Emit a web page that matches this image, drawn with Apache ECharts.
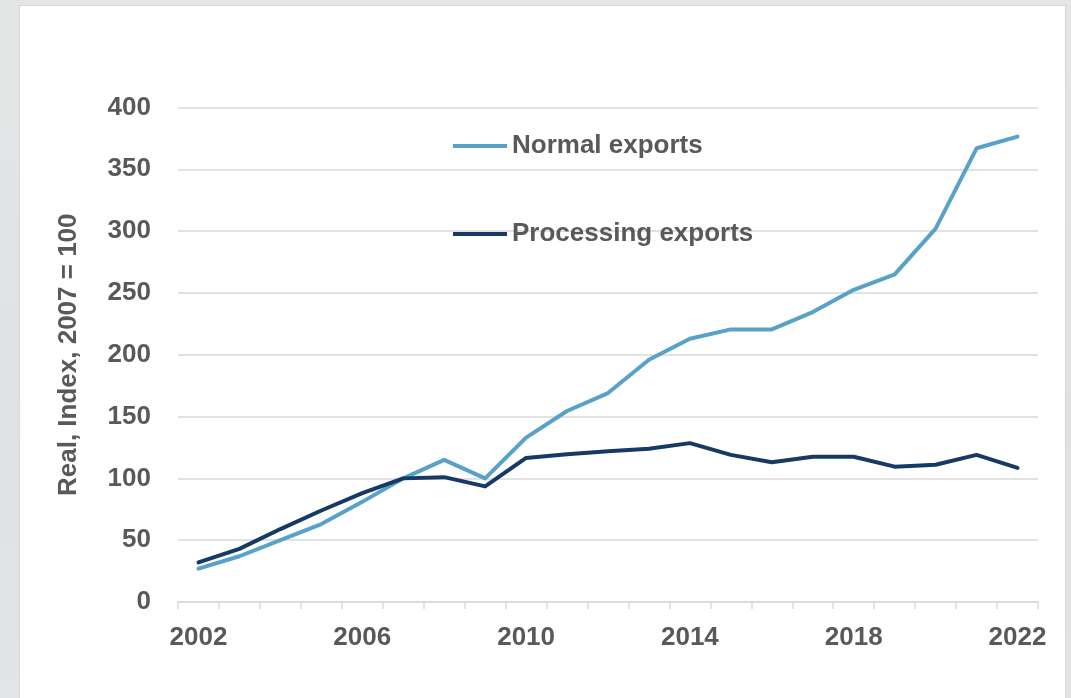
<!DOCTYPE html>
<html>
<head>
<meta charset="utf-8">
<script src="https://cdn.jsdelivr.net/npm/echarts@6/dist/echarts.min.js"></script>
<style>
  html, body { margin: 0; padding: 0; width: 1071px; height: 698px; overflow: hidden; }
  body { background: linear-gradient(180deg, #e4e6e6 0%, #dfe2e3 60%, #e2e5e7 100%); position: relative; }
  #panel { position: absolute; left: 20px; top: 6px; width: 1045px; height: 700px; background: #fff;
           box-shadow: 0 0 0 1px #d8d8d8; }
  #chart { position: absolute; left: 0; top: 0; width: 1071px; height: 698px; }
</style>
</head>
<body>
<div id="panel"></div>
<div id="chart"></div>
<script>
// Export volume indices, real terms, 2007 = 100
const years = ['2002','2003','2004','2005','2006','2007','2008','2009','2010','2011','2012',
               '2013','2014','2015','2016','2017','2018','2019','2020','2021','2022'];
const normalExports = [27, 37, 50, 63, 81, 100, 115, 100, 133, 154.5, 169,
                       196, 213, 220.5, 220.5, 234.5, 252.5, 265, 302, 367, 376.5];
const processingExports = [32, 43, 59, 74, 88, 100, 101, 93.5, 116.5, 119.5, 122,
                           124, 128.5, 119, 113, 117.5, 117.5, 109.5, 111, 119, 108.5];
const yTicks = { min: 0, max: 400, step: 50 };

const textColor = '#595959';
const font = 'Liberation Sans, Arial, sans-serif';

const chart = echarts.init(document.getElementById('chart'), null, { renderer: 'canvas' });
chart.setOption({
  backgroundColor: 'transparent',
  animation: false,
  textStyle: { fontFamily: font },
  grid: { left: 178, right: 33, top: 107.5, bottom: 96, containLabel: false },
  legend: {
    orient: 'vertical',
    left: 448,
    top: 128,
    itemWidth: 54,
    itemHeight: 4,
    itemGap: 62,
    icon: 'rect',
    textStyle: { fontSize: 26, fontWeight: 'bold', color: textColor, fontFamily: font, padding: [0, 0, 0, 0] },
    data: ['Normal exports', 'Processing exports']
  },
  xAxis: {
    type: 'category',
    data: years,
    boundaryGap: true,
    axisLine: { lineStyle: { color: '#d9d9d9', width: 1.5 } },
    axisTick: { show: true, interval: 0, length: 7, lineStyle: { color: '#d9d9d9', width: 1.5 } },
    axisLabel: { interval: 3, margin: 23, fontSize: 26, fontWeight: 'bold', color: textColor, fontFamily: font },
    splitLine: { show: false }
  },
  yAxis: {
    type: 'value',
    min: yTicks.min,
    max: yTicks.max,
    interval: yTicks.step,
    name: 'Real, Index, 2007 = 100',
    nameLocation: 'middle',
    nameGap: 96,
    nameTextStyle: { fontSize: 26, fontWeight: 'bold', color: textColor, fontFamily: font },
    axisLine: { show: false },
    axisTick: { show: false },
    axisLabel: { margin: 27, fontSize: 26, fontWeight: 'bold', color: textColor, fontFamily: font },
    splitLine: { lineStyle: { color: '#d9d9d9', width: 1.5 } }
  },
  series: [
    {
      name: 'Normal exports',
      type: 'line',
      data: normalExports,
      symbol: 'none',
      color: '#58a2c9',
      lineStyle: { width: 4, color: '#58a2c9', cap: 'round', join: 'round' }
    },
    {
      name: 'Processing exports',
      type: 'line',
      data: processingExports,
      symbol: 'none',
      color: '#153a66',
      lineStyle: { width: 4, color: '#153a66', cap: 'round', join: 'round' }
    }
  ]
});
</script>
</body>
</html>
